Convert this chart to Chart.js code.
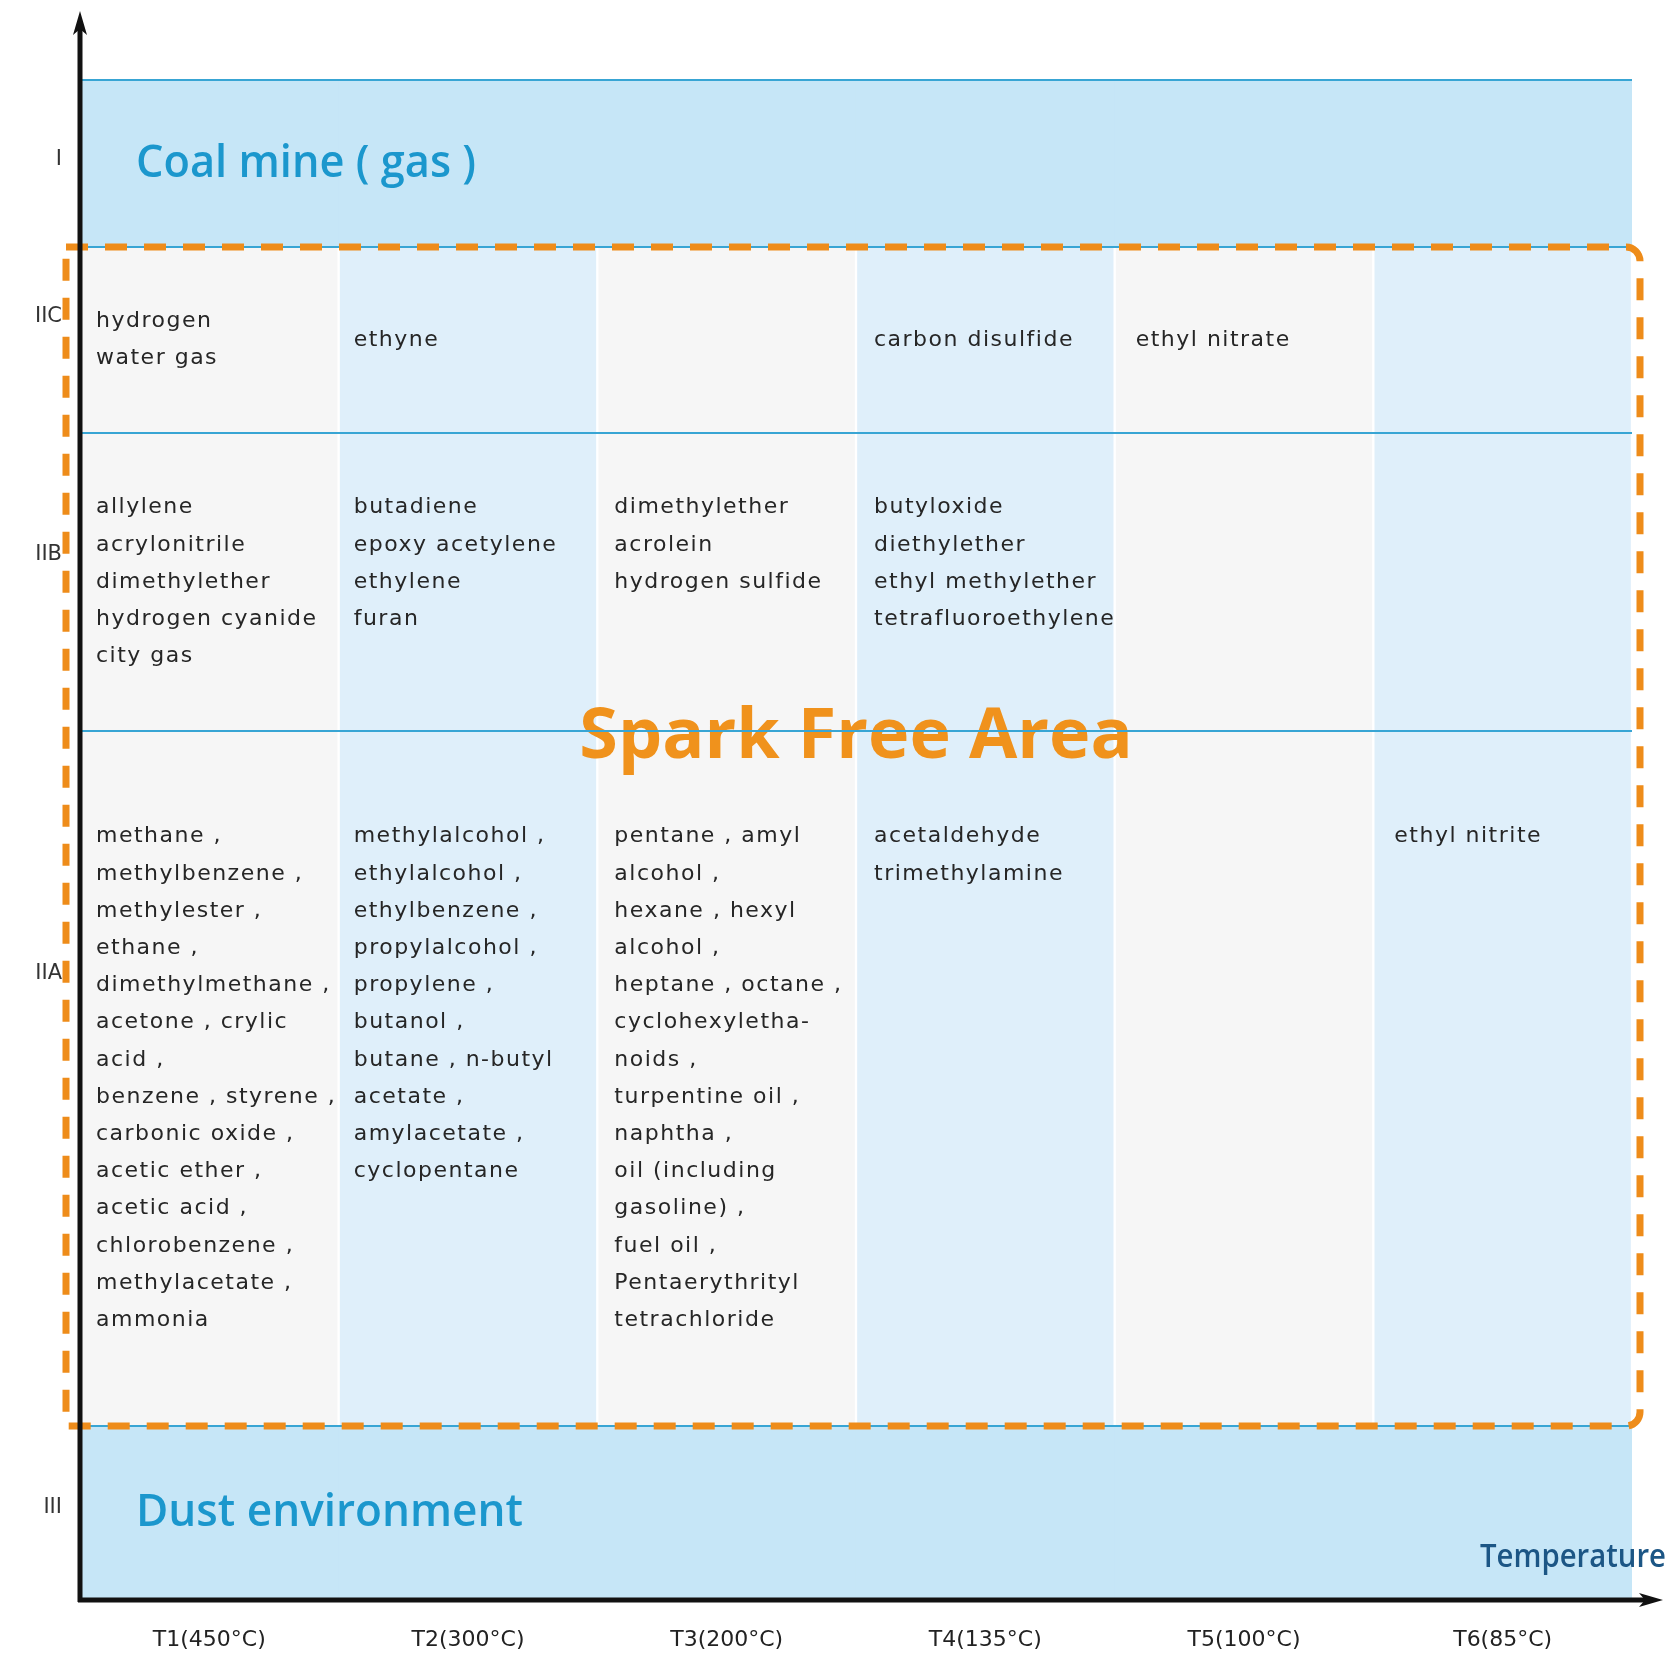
<!DOCTYPE html>
<html>
<head>
<meta charset="utf-8">
<script src="https://cdn.jsdelivr.net/npm/chart.js@4"></script>
<style>
  body { margin: 0; background: #fff; }
  #wrap { width: 1669px; height: 1661px; }
</style>
</head>
<body>
<div id="wrap"><canvas id="chart"></canvas></div>
<script>
  // temperature classes along x
  const categories = ['T1(450°C)', 'T2(300°C)', 'T3(200°C)', 'T4(135°C)', 'T5(100°C)', 'T6(85°C)'];

  // gas groups along y (bottom to top) and where their labels sit
  const groupLabels = ['III', 'IIA', 'IIB', 'IIC', 'I'];
  const groupLabelAt = [92, 626, 1045, 1283, 1440];
  // band edges: dust | IIA | IIB | IIC | coal mine
  const rowEdges = [0, 174, 869, 1167, 1353, 1520];

  const iicGases = [
    ['hydrogen', 'water gas'],
    ['ethyne'],
    [],
    ['carbon disulfide'],
    ['ethyl nitrate'],
    []
  ];
  const iibGases = [
    ['allylene', 'acrylonitrile', 'dimethylether', 'hydrogen cyanide', 'city gas'],
    ['butadiene', 'epoxy acetylene', 'ethylene', 'furan'],
    ['dimethylether', 'acrolein', 'hydrogen sulfide'],
    ['butyloxide', 'diethylether', 'ethyl methylether', 'tetrafluoroethylene'],
    [],
    []
  ];
  const iiaGases = [
    ['methane ,', 'methylbenzene ,', 'methylester ,', 'ethane ,', 'dimethylmethane ,', 'acetone , crylic',
     'acid ,', 'benzene , styrene ,', 'carbonic oxide ,', 'acetic ether ,', 'acetic acid ,',
     'chlorobenzene ,', 'methylacetate ,', 'ammonia'],
    ['methylalcohol ,', 'ethylalcohol ,', 'ethylbenzene ,', 'propylalcohol ,', 'propylene ,', 'butanol ,',
     'butane , n-butyl', 'acetate ,', 'amylacetate ,', 'cyclopentane'],
    ['pentane , amyl', 'alcohol ,', 'hexane , hexyl', 'alcohol ,', 'heptane , octane ,', 'cyclohexyletha-',
     'noids ,', 'turpentine oil ,', 'naphtha ,', 'oil (including', 'gasoline) ,', 'fuel oil ,',
     'Pentaerythrityl', 'tetrachloride'],
    ['acetaldehyde', 'trimethylamine'],
    [],
    ['ethyl nitrite']
  ];

  const bandTitles = ['Dust environment', 'Coal mine ( gas )'];
  const zoneTitle = 'Spark Free Area';
  const axisTitle = 'Temperature';

  const cellColors = ['#f6f6f6', '#dfeffa', '#f6f6f6', '#dfeffa', '#f6f6f6', '#dfeffa'];
  const indent = [16, 15, 17, 18, 21, 21];
  const lineH = 37.2;

  const zonePlugin = {
    id: 'zones',
    afterDatasetsDraw(chart) {
      const { ctx, chartArea: a, scales: { x, y } } = chart;
      const colW = a.width / categories.length;
      ctx.save();
      ctx.textBaseline = 'middle';
      ctx.textAlign = 'left';

      // band titles
      ctx.fillStyle = '#1b97cd';
      ctx.font = '600 46px "Open Sans"';
      ctx.fillText(bandTitles[0], a.left + 56, y.getPixelForValue((rowEdges[0] + rowEdges[1]) / 2), 387);
      ctx.fillText(bandTitles[1], a.left + 56, y.getPixelForValue((rowEdges[4] + rowEdges[5]) / 2), 340);

      // gas names per cell
      ctx.font = '22px "DejaVu Sans"';
      ctx.letterSpacing = '1.5px';
      ctx.fillStyle = '#262626';
      [[iiaGases, 1, false], [iibGases, 2, false], [iicGases, 3, true]].forEach(([cells, r, centerEach]) => {
        const mid = y.getPixelForValue((rowEdges[r] + rowEdges[r + 1]) / 2);
        const maxN = Math.max(...cells.map(c => c.length));
        cells.forEach((lines, i) => {
          const n = centerEach ? lines.length : maxN;
          const top = mid - (n - 1) * lineH / 2;
          const left = x.getPixelForValue(i) - colW / 2 + indent[i];
          lines.forEach((t, k) => ctx.fillText(t, left, top + k * lineH));
        });
      });
      ctx.letterSpacing = '0px';

      // Spark Free Area
      ctx.fillStyle = '#f0921c';
      ctx.font = 'bold 70px "Open Sans"';
      ctx.textAlign = 'center';
      ctx.fillText(zoneTitle, (a.left + a.right) / 2, y.getPixelForValue(rowEdges[2]) + 7, 560);

      // row lines
      ctx.strokeStyle = '#38a5d4';
      ctx.lineWidth = 2;
      rowEdges.slice(1).forEach(v => {
        const py = y.getPixelForValue(v);
        ctx.beginPath();
        ctx.moveTo(a.left, py);
        ctx.lineTo(a.right, py);
        ctx.stroke();
      });

      // dashed spark-free outline
      const top = y.getPixelForValue(rowEdges[4]);
      const bottom = y.getPixelForValue(rowEdges[1]);
      ctx.strokeStyle = '#ee8c1a';
      ctx.lineWidth = 7;
      ctx.setLineDash([22, 17]);
      ctx.beginPath();
      ctx.roundRect(a.left - 14, top, a.width + 22, bottom - top, [0, 14, 14, 0]);
      ctx.stroke();
      ctx.setLineDash([]);

      // axes with arrows
      ctx.strokeStyle = '#111';
      ctx.fillStyle = '#111';
      ctx.lineWidth = 5;
      ctx.beginPath();
      ctx.moveTo(a.left, a.bottom + 2);
      ctx.lineTo(a.left, 28);
      ctx.moveTo(a.left - 2, a.bottom);
      ctx.lineTo(a.right + 16, a.bottom);
      ctx.stroke();
      ctx.beginPath();
      ctx.moveTo(a.left, 11);
      ctx.lineTo(a.left + 7, 35);
      ctx.lineTo(a.left, 29);
      ctx.lineTo(a.left - 7, 35);
      ctx.closePath();
      ctx.fill();
      ctx.beginPath();
      ctx.moveTo(a.right + 31, a.bottom);
      ctx.lineTo(a.right + 7, a.bottom - 7);
      ctx.lineTo(a.right + 13, a.bottom);
      ctx.lineTo(a.right + 7, a.bottom + 7);
      ctx.closePath();
      ctx.fill();

      // axis title
      ctx.fillStyle = '#1c5685';
      ctx.font = '600 32px "Open Sans"';
      ctx.textAlign = 'right';
      ctx.fillText(axisTitle, a.right + 34, a.bottom - 42, 186);
      ctx.restore();
    }
  };

  const span = (lo, hi) => categories.map(() => [lo, hi]);

  new Chart(
    document.getElementById('chart'),
    {
      type: 'bar',
      data: {
        labels: categories,
        datasets: [
          {
            data: span(rowEdges[0], rowEdges[1]),
            backgroundColor: '#c6e6f7',
            grouped: false
          },
          {
            data: span(rowEdges[1], rowEdges[4]),
            backgroundColor: cellColors,
            borderColor: '#ffffff',
            borderWidth: { left: 1.5, right: 1.5, top: 0, bottom: 0 },
            borderSkipped: false,
            grouped: false
          },
          {
            data: span(rowEdges[4], rowEdges[5]),
            backgroundColor: '#c6e6f7',
            grouped: false
          }
        ]
      },
      options: {
        responsive: true,
        maintainAspectRatio: false,
        animation: false,
        barPercentage: 1,
        categoryPercentage: 1,
        layout: {
          padding: { top: 80, right: 37, left: 0, bottom: 0 }
        },
        plugins: {
          legend: { display: false },
          tooltip: { enabled: false }
        },
        scales: {
          x: {
            grid: { display: false, drawTicks: false },
            border: { display: false },
            ticks: {
              color: '#222',
              font: { family: 'DejaVu Sans', size: 22 },
              padding: 27
            },
            afterFit: s => { s.height = 61; }
          },
          y: {
            min: rowEdges[0],
            max: rowEdges[rowEdges.length - 1],
            grid: { display: false, drawTicks: false },
            border: { display: false },
            afterBuildTicks: s => { s.ticks = groupLabelAt.map(v => ({ value: v })); },
            ticks: {
              color: '#333',
              font: { family: 'DejaVu Sans', size: 21 },
              padding: 18,
              callback: (value, index) => groupLabels[index]
            },
            afterFit: s => { s.width = 80; }
          }
        }
      },
      plugins: [zonePlugin]
    }
  );
</script>
</body>
</html>
